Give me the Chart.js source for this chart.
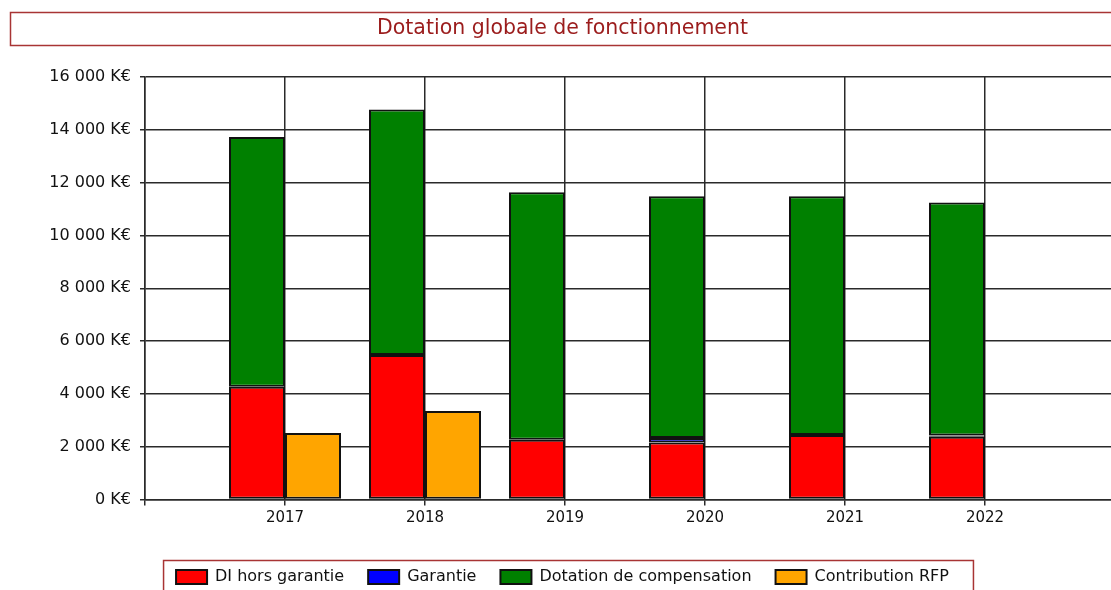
<!DOCTYPE html>
<html>
<head>
<meta charset="utf-8">
<script src="https://cdn.jsdelivr.net/npm/chart.js@4/dist/chart.umd.min.js"></script>
<style>
  html, body { margin: 0; padding: 0; background: #fff; overflow: hidden; }
  #wrap { width: 1130px; height: 595px; }
</style>
</head>
<body>
<div id="wrap"><canvas id="chart" width="1130" height="595"></canvas></div>
<script>
// années (les deux vides servent de marge de part et d'autre)
var annees = ['', '2017', '2018', '2019', '2020', '2021', '2022', ''];

// valeurs en K€
var diHorsGarantie = [null, 4270, 5470, 2260, 2160, 2440, 2380, null];
var garantie       = [null, null, null, null, 165, null, 40, null];
var dotationCompensation = [null, 9460, 9300, 9380, 9155, 9040, 8830, null];
var contributionRFP = [null, 2520, 3350, null, null, null, null, null];

var graduations = [0, 2000, 4000, 6000, 8000, 10000, 12000, 14000, 16000];

var police = 'DejaVu Sans';

function formatKE(v) {
  var s = String(v).replace(/\B(?=(\d{3})+(?!\d))/g, ' ');
  return s + ' K€';
}

// cadres du titre et de la légende
var cadres = {
  id: 'cadres',
  afterDraw: function(c) {
    var ctx = c.ctx;
    ctx.save();
    ctx.strokeStyle = '#a83434';
    ctx.lineWidth = 1.5;
    // titre
    ctx.strokeRect(10.5, 12.5, 1130, 33);
    // légende
    var hb = c.legend.legendHitBoxes;
    if (hb && hb.length) {
      var gauche = hb[0].left - 13;
      var droite = hb[hb.length - 1].left + hb[hb.length - 1].width + 24;
      var haut = hb[0].top - 9;
      ctx.strokeRect(gauche + 0.5, haut + 0.5, droite - gauche, 60);
    }
    ctx.restore();
  }
};

var ctx = document.getElementById('chart').getContext('2d');

var chart = new Chart(ctx, {
  type: 'bar',
  data: {
    labels: annees,
    datasets: [
      { label: 'DI hors garantie', data: diHorsGarantie, backgroundColor: '#ff0000', stack: 'a' },
      { label: 'Garantie', data: garantie, backgroundColor: '#0000ff', stack: 'a' },
      { label: 'Dotation de compensation', data: dotationCompensation, backgroundColor: '#008000', stack: 'a' },
      { label: 'Contribution RFP', data: contributionRFP, backgroundColor: '#ffa500', stack: 'b' }
    ]
  },
  options: {
    responsive: false,
    animation: false,
    layout: { padding: { left: 0, right: 5, top: 0, bottom: 0 } },
    datasets: {
      bar: {
        borderColor: '#111',
        borderWidth: 2,
        borderSkipped: false,
        categoryPercentage: 0.8,
        barPercentage: 1.0
      }
    },
    plugins: {
      title: {
        display: true,
        text: 'Dotation globale de fonctionnement',
        color: '#9b1c1c',
        font: { family: police, size: 20.5, weight: 'normal' },
        padding: { top: 16, bottom: 36.4 }
      },
      legend: {
        position: 'bottom',
        labels: {
          color: '#111',
          font: { family: police, size: 16 },
          boxWidth: 31,
          boxHeight: 14,
          padding: 24
        }
      },
      tooltip: { enabled: false }
    },
    scales: {
      x: {
        stacked: true,
        offset: false,
        grid: { offset: false, color: '#2a2a2a', lineWidth: 1.5, tickLength: 6 },
        border: { color: '#2a2a2a', width: 1.5 },
        ticks: {
          color: '#111',
          font: { family: police, size: 15 },
          padding: 4,
          autoSkip: false,
          maxRotation: 0
        },
        afterFit: function(s) { s.height = 45.5; }
      },
      y: {
        stacked: true,
        min: 0,
        max: 16000,
        afterBuildTicks: function(s) {
          s.ticks = graduations.map(function(v) { return { value: v }; });
        },
        grid: { color: '#2a2a2a', lineWidth: 1.5, tickLength: 5 },
        border: { color: '#2a2a2a', width: 1.5 },
        ticks: {
          color: '#111',
          font: { family: police, size: 16 },
          padding: 9,
          callback: function(v) { return formatKE(v); }
        },
        afterFit: function(s) { s.width = 145; }
      }
    }
  },
  plugins: [cadres]
});
</script>
</body>
</html>
